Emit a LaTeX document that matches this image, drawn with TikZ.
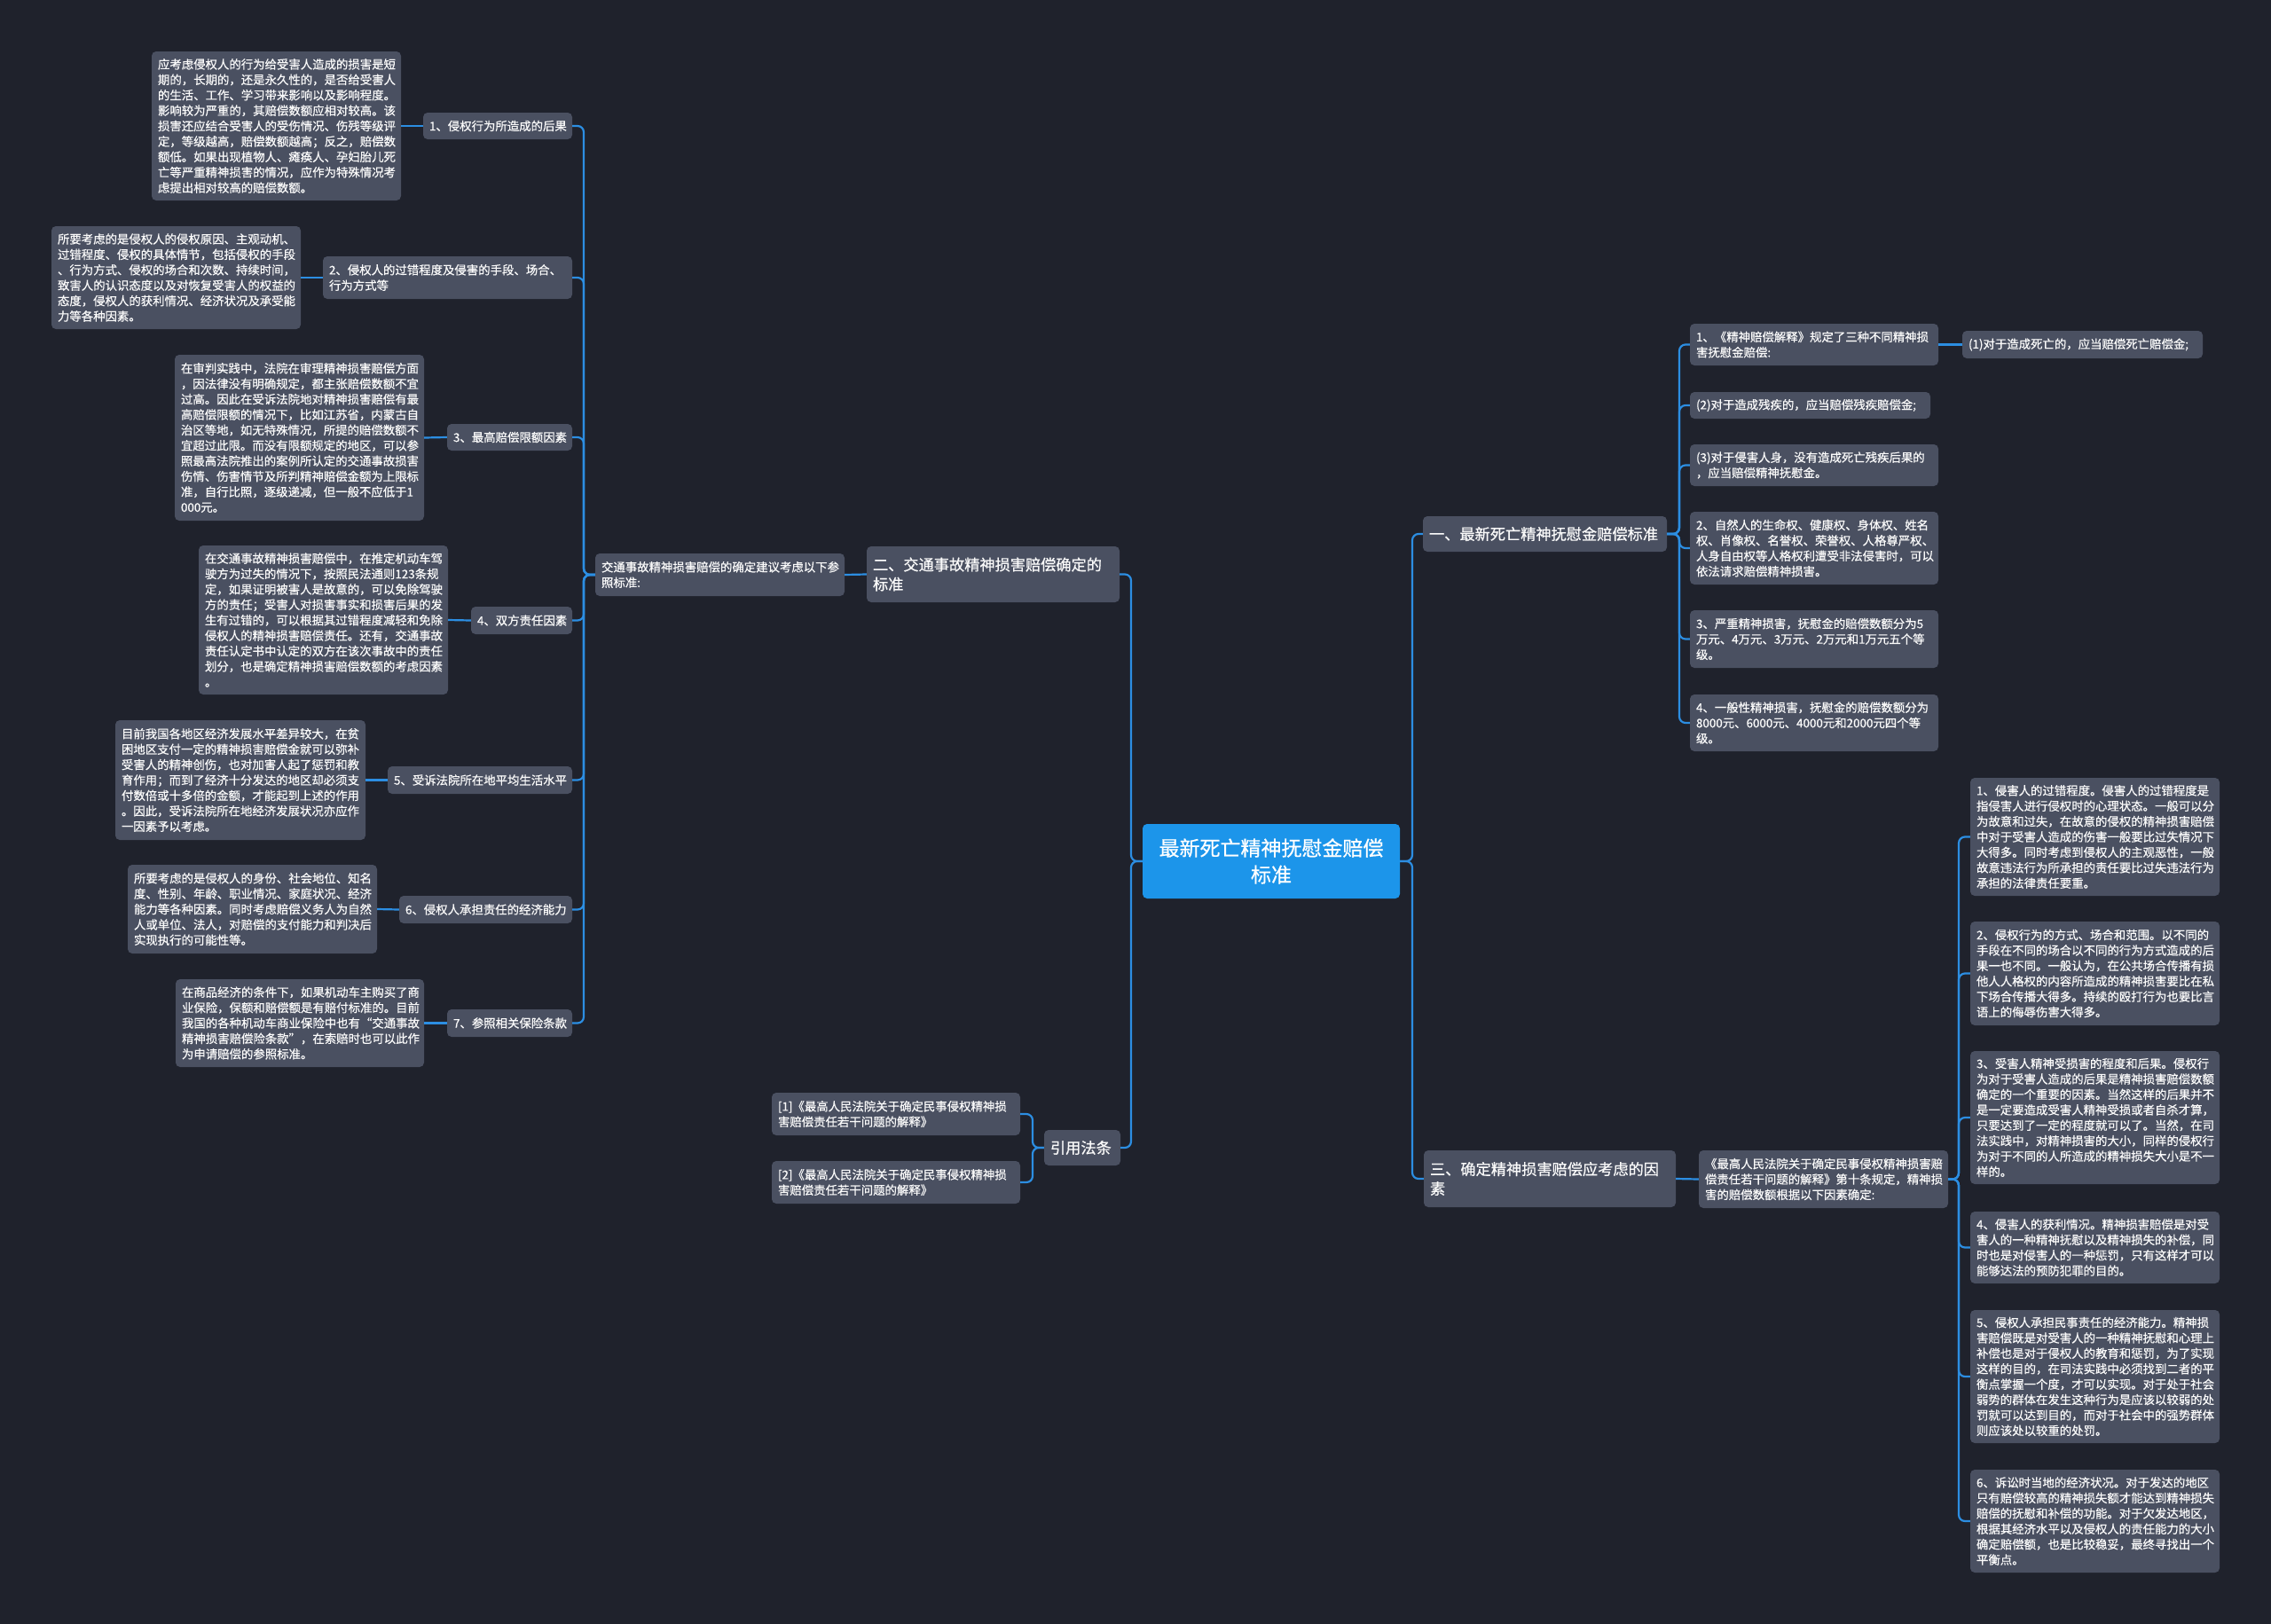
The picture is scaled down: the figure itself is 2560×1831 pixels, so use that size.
\documentclass[tikz,border=0pt]{standalone}
\usepackage{fontspec}
\newfontfamily\cjk[RawFeature={embolden=0.6}]{Noto Sans CJK SC}
\definecolor{bgc}{HTML}{1F222C}
\definecolor{boxc}{HTML}{4A5061}
\definecolor{rootc}{HTML}{1C95EA}
\definecolor{linec}{HTML}{2C8EE2}
\definecolor{txtc}{HTML}{FAFAFA}
\newcommand\bx[7]{%
 \pgfmathsetmacro\bxw{#4-#2}\pgfmathsetmacro\bxh{#5-#3}\pgfmathsetmacro\bxt{#4-#2-14}%
 \pgfmathsetmacro\bxcx{(#2+#4)/2}\pgfmathsetmacro\bxcy{(#3+#5)/2}%
 \node[#6, minimum width=\bxw pt, minimum height=\bxh pt, text width=\bxt pt] (#1) at (\bxcx,\bxcy) {#7};}
\tikzset{
 box/.style={fill=boxc, rounded corners=5pt, inner xsep=7pt, inner ysep=2pt, text=txtc, align=left, font=\cjk\fontsize{13.4}{17.4}\selectfont},
 midbox/.style={box, font=\cjk\fontsize{17.2}{22}\selectfont},
 rootbox/.style={box, fill=rootc, align=center, text=white, font=\cjk\fontsize{23}{30}\selectfont},
 conn/.style={draw=linec, line width=2.2pt, rounded corners=7pt}
}
\begin{document}
\begin{tikzpicture}[x=1pt,y=-1pt]
\useasboundingbox[fill=bgc] (0,0) rectangle (2560,1831);
% root
\bx{root}{1288}{929}{1578}{1013}{rootbox}{最新死亡精神抚慰金赔偿\\标准}
% left branch
\bx{two}{977}{616}{1262}{679}{midbox}{二、交通事故精神损害赔偿确定的\\标准}
\bx{mid}{671}{624}{952}{672}{box}{交通事故精神损害赔偿的确定建议考虑以下参\\照标准:}
\bx{L1}{477}{127}{645}{157}{box}{1、侵权行为所造成的后果}
\bx{L2}{364}{289}{645}{337}{box}{2、侵权人的过错程度及侵害的手段、场合、\\行为方式等}
\bx{L3}{504}{478}{645}{508}{box}{3、最高赔偿限额因素}
\bx{L4}{531}{684}{645}{715}{box}{4、双方责任因素}
\bx{L5}{437}{864}{645}{895}{box}{5、受诉法院所在地平均生活水平}
\bx{L6}{450}{1010}{645}{1041}{box}{6、侵权人承担责任的经济能力}
\bx{L7}{504}{1138}{645}{1169}{box}{7、参照相关保险条款}
\bx{F1}{171}{58}{452}{226}{box}{应考虑侵权人的行为给受害人造成的损害是短\\期的，长期的，还是永久性的，是否给受害人\\的生活、工作、学习带来影响以及影响程度。\\影响较为严重的，其赔偿数额应相对较高。该\\损害还应结合受害人的受伤情况、伤残等级评\\定，等级越高，赔偿数额越高；反之，赔偿数\\额低。如果出现植物人、瘫痪人、孕妇胎儿死\\亡等严重精神损害的情况，应作为特殊情况考\\虑提出相对较高的赔偿数额。}
\bx{F2}{58}{255}{339}{371}{box}{所要考虑的是侵权人的侵权原因、主观动机、\\过错程度、侵权的具体情节，包括侵权的手段\\、行为方式、侵权的场合和次数、持续时间，\\致害人的认识态度以及对恢复受害人的权益的\\态度，侵权人的获利情况、经济状况及承受能\\力等各种因素。}
\bx{F3}{197}{400}{478}{587}{box}{在审判实践中，法院在审理精神损害赔偿方面\\，因法律没有明确规定，都主张赔偿数额不宜\\过高。因此在受诉法院地对精神损害赔偿有最\\高赔偿限额的情况下，比如江苏省，内蒙古自\\治区等地，如无特殊情况，所提的赔偿数额不\\宜超过此限。而没有限额规定的地区，可以参\\照最高法院推出的案例所认定的交通事故损害\\伤情、伤害情节及所判精神赔偿金额为上限标\\准，自行比照，逐级递减，但一般不应低于1\\000元。}
\bx{F4}{224}{615}{505}{783}{box}{在交通事故精神损害赔偿中，在推定机动车驾\\驶方为过失的情况下，按照民法通则123条规\\定，如果证明被害人是故意的，可以免除驾驶\\方的责任；受害人对损害事实和损害后果的发\\生有过错的，可以根据其过错程度减轻和免除\\侵权人的精神损害赔偿责任。还有，交通事故\\责任认定书中认定的双方在该次事故中的责任\\划分，也是确定精神损害赔偿数额的考虑因素\\。}
\bx{F5}{130}{812}{412}{947}{box}{目前我国各地区经济发展水平差异较大，在贫\\困地区支付一定的精神损害赔偿金就可以弥补\\受害人的精神创伤，也对加害人起了惩罚和教\\育作用；而到了经济十分发达的地区却必须支\\付数倍或十多倍的金额，才能起到上述的作用\\。因此，受诉法院所在地经济发展状况亦应作\\一因素予以考虑。}
\bx{F6}{144}{975}{425}{1075}{box}{所要考虑的是侵权人的身份、社会地位、知名\\度、性别、年龄、职业情况、家庭状况、经济\\能力等各种因素。同时考虑赔偿义务人为自然\\人或单位、法人，对赔偿的支付能力和判决后\\实现执行的可能性等。}
\bx{F7}{198}{1104}{478}{1203}{box}{在商品经济的条件下，如果机动车主购买了商\\业保险，保额和赔偿额是有赔付标准的。目前\\我国的各种机动车商业保险中也有“交通事故\\精神损害赔偿险条款”，在索赔时也可以此作\\为申请赔偿的参照标准。}
% citations
\bx{cite}{1177}{1274}{1263}{1314}{midbox}{引用法条}
\bx{ref1}{870}{1232}{1150}{1280}{box}{[1]《最高人民法院关于确定民事侵权精神损\\害赔偿责任若干问题的解释》}
\bx{ref2}{870}{1309}{1150}{1357}{box}{[2]《最高人民法院关于确定民事侵权精神损\\害赔偿责任若干问题的解释》}
% right branch one
\bx{one}{1604}{582}{1879}{622}{midbox}{一、最新死亡精神抚慰金赔偿标准}
\bx{c1}{1905}{365}{2185}{412}{box}{1、《精神赔偿解释》规定了三种不同精神损\\害抚慰金赔偿:}
\bx{c1a}{2212}{373}{2483}{404}{box}{(1)对于造成死亡的，应当赔偿死亡赔偿金;}
\bx{c2}{1905}{442}{2176}{472}{box}{(2)对于造成残疾的，应当赔偿残疾赔偿金;}
\bx{c3}{1905}{501}{2185}{548}{box}{(3)对于侵害人身，没有造成死亡残疾后果的\\，应当赔偿精神抚慰金。}
\bx{c4}{1905}{577}{2185}{659}{box}{2、自然人的生命权、健康权、身体权、姓名\\权、肖像权、名誉权、荣誉权、人格尊严权、\\人身自由权等人格权利遭受非法侵害时，可以\\依法请求赔偿精神损害。}
\bx{c5}{1905}{688}{2185}{753}{box}{3、严重精神损害，抚慰金的赔偿数额分为5\\万元、4万元、3万元、2万元和1万元五个等\\级。}
\bx{c6}{1905}{783}{2185}{847}{box}{4、一般性精神损害，抚慰金的赔偿数额分为\\8000元、6000元、4000元和2000元四个等\\级。}
% right branch three
\bx{three}{1605}{1297}{1889}{1361}{midbox}{三、确定精神损害赔偿应考虑的因\\素}
\bx{law}{1915}{1297}{2196}{1362}{box}{《最高人民法院关于确定民事侵权精神损害赔\\偿责任若干问题的解释》第十条规定，精神损\\害的赔偿数额根据以下因素确定:}
\bx{r1}{2221}{877}{2502}{1010}{box}{1、侵害人的过错程度。侵害人的过错程度是\\指侵害人进行侵权时的心理状态。一般可以分\\为故意和过失，在故意的侵权的精神损害赔偿\\中对于受害人造成的伤害一般要比过失情况下\\大得多。同时考虑到侵权人的主观恶性，一般\\故意违法行为所承担的责任要比过失违法行为\\承担的法律责任要重。}
\bx{r2}{2221}{1039}{2502}{1156}{box}{2、侵权行为的方式、场合和范围。以不同的\\手段在不同的场合以不同的行为方式造成的后\\果一也不同。一般认为，在公共场合传播有损\\他人人格权的内容所造成的精神损害要比在私\\下场合传播大得多。持续的殴打行为也要比言\\语上的侮辱伤害大得多。}
\bx{r3}{2221}{1185}{2502}{1335}{box}{3、受害人精神受损害的程度和后果。侵权行\\为对于受害人造成的后果是精神损害赔偿数额\\确定的一个重要的因素。当然这样的后果并不\\是一定要造成受害人精神受损或者自杀才算，\\只要达到了一定的程度就可以了。当然，在司\\法实践中，对精神损害的大小，同样的侵权行\\为对于不同的人所造成的精神损失大小是不一\\样的。}
\bx{r4}{2221}{1366}{2502}{1447}{box}{4、侵害人的获利情况。精神损害赔偿是对受\\害人的一种精神抚慰以及精神损失的补偿，同\\时也是对侵害人的一种惩罚，只有这样才可以\\能够达法的预防犯罪的目的。}
\bx{r5}{2221}{1477}{2502}{1627}{box}{5、侵权人承担民事责任的经济能力。精神损\\害赔偿既是对受害人的一种精神抚慰和心理上\\补偿也是对于侵权人的教育和惩罚，为了实现\\这样的目的，在司法实践中必须找到二者的平\\衡点掌握一个度，才可以实现。对于处于社会\\弱势的群体在发生这种行为是应该以较弱的处\\罚就可以达到目的，而对于社会中的强势群体\\则应该处以较重的处罚。}
\bx{r6}{2221}{1657}{2502}{1773}{box}{6、诉讼时当地的经济状况。对于发达的地区\\只有赔偿较高的精神损失额才能达到精神损失\\赔偿的抚慰和补偿的功能。对于欠发达地区，\\根据其经济水平以及侵权人的责任能力的大小\\确定赔偿额，也是比较稳妥，最终寻找出一个\\平衡点。}
% connectors
\coordinate (tL) at (1275,971);
\coordinate (tR) at (1592,971);
\draw[conn] (root.west) -- (tL) |- (two.east);
\draw[conn] (root.west) -- (tL) |- (cite.east);
\draw[conn] (root.east) -- (tR) |- (one.west);
\draw[conn] (root.east) -- (tR) |- (three.west);
\draw[conn] (two.west) -- (mid.east);
\coordinate (tM) at (658,648);
\foreach \n in {L1,L2,L3,L4,L5,L6,L7}{\draw[conn] (mid.west) -- (tM) |- (\n.east);}
\foreach \n in {1,...,7}{\draw[conn] (L\n.west) -- (F\n.east);}
\coordinate (tC) at (1164,1294);
\foreach \n in {ref1,ref2}{\draw[conn] (cite.west) -- (tC) |- (\n.east);}
\coordinate (tO) at (1893,602);
\foreach \n in {c1,c2,c3,c4,c5,c6}{\draw[conn] (one.east) -- (tO) |- (\n.west);}
\draw[conn] (c1.east) -- (c1a.west);
\draw[conn] (three.east) -- (law.west);
\coordinate (tT) at (2208,1329.5);
\foreach \n in {r1,r2,r3,r4,r5,r6}{\draw[conn] (law.east) -- (tT) |- (\n.west);}
\end{tikzpicture}
\end{document}
